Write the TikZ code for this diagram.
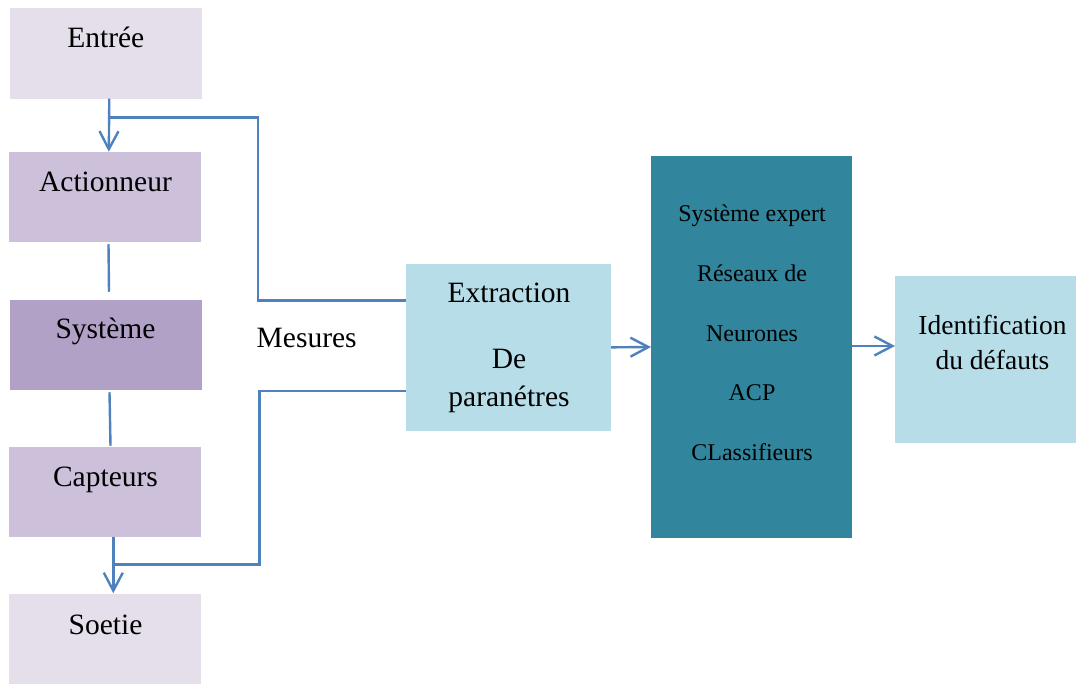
\documentclass[tikz,border=0pt]{standalone}
\usepackage{fontspec}
\setmainfont{Liberation Serif}
\usetikzlibrary{arrows.meta}
\definecolor{pale}{HTML}{E5DFEC}
\definecolor{mauve}{HTML}{CCC0DA}
\definecolor{sysc}{HTML}{B2A1C7}
\definecolor{lightblue}{HTML}{B7DEE8}
\definecolor{tealc}{HTML}{31859C}
\definecolor{linec}{HTML}{4F81BD}
\begin{document}
\begin{tikzpicture}[x=1pt,y=-1pt,
  box/.style={draw=none, inner sep=0pt, outer sep=0pt},
  leftbox/.style={box, minimum width=192pt, minimum height=90.5pt},
  txt/.style={anchor=base, inner sep=0pt, font=\fontsize{29.5}{35}\selectfont},
  smalltxt/.style={anchor=base, inner sep=0pt, font=\fontsize{24}{29}\selectfont},
  conn/.style={draw=linec, line width=2.4pt},
  arr/.style={conn, -{Straight Barb[length=18pt,width=19pt,line width=2.4pt]}}
]
\useasboundingbox (0,0) rectangle (1076,684);

% left column boxes
\node[leftbox, fill=pale]  (entree) at (105.5,53.5) {};
\node[leftbox, fill=mauve] (act)    at (105.0,197) {};
\node[leftbox, fill=sysc]  (sys)    at (105.5,345) {};
\node[leftbox, fill=mauve] (cap)    at (105.0,492) {};
\node[leftbox, fill=pale]  (soe)    at (105.0,639.5) {};

\node[txt] (entreeT) at (105.8,47.3) {Entrée};
\node[txt] (actT)    at (105.5,191.7) {Actionneur};
\node[txt] (sysT)    at (105.5,339) {Système};
\node[txt] (capT)    at (105.5,486) {Capteurs};
\node[txt] (soeT)    at (105.5,634) {Soetie};

% right boxes
\node[box, fill=lightblue, minimum width=205pt, minimum height=166.7pt] (ext) at (508.5,347.35) {};
\node[box, fill=tealc, minimum width=201pt, minimum height=382pt] (teal) at (751.5,347) {};
\node[box, fill=lightblue, minimum width=181pt, minimum height=166.7pt] (ident) at (985.5,359.35) {};

\node[txt] (extT1) at (509,302.7) {Extraction};
\node[txt] (extT2) at (509,369) {De};
\node[txt] (extT3) at (509,406.7) {paranétres};

\node[smalltxt] (tT1) at (752,221.7) {Système expert};
\node[smalltxt] (tT2) at (752,281.7) {Réseaux de};
\node[smalltxt] (tT3) at (752,341.7) {Neurones};
\node[smalltxt] (tT4) at (752,400.7) {ACP};
\node[smalltxt] (tT5) at (752,460.7) {CLassifieurs};

\node[font=\fontsize{27.5}{33}\selectfont, anchor=base, inner sep=0pt] (idT1) at (992.5,335) {Identification};
\node[font=\fontsize{27.5}{33}\selectfont, anchor=base, inner sep=0pt] (idT2) at (992.5,370) {du défauts};

\node[txt] (mes) at (306.7,348) {Mesures};

% connectors
\coordinate (b1) at (109.3,117.7);
\coordinate (b2) at (113.3,564.3);
\coordinate (e1) at (406,300.7);
\coordinate (e2) at (406,391);

\draw[arr] ([xshift=3.8pt]entree.south) -- ([xshift=3.8pt]act.north);
\draw[conn] (b1) -- (257.7,117.7) |- (e1);
\draw[conn] ([xshift=3.5pt,yshift=-2pt]act.south) -- ([xshift=3.5pt,yshift=8pt]sys.north);
\draw[conn] ([xshift=4pt,yshift=-2pt]sys.south) -- ([xshift=5.5pt,yshift=1pt]cap.north);
\draw[arr] ([xshift=8.3pt]cap.south) -- ([xshift=8.3pt,yshift=1pt]soe.north);
\draw[conn] (b2) -- (259.3,564.3) |- (e2);

\draw[arr] (ext.east) -- (teal.west);
\draw[arr] ([yshift=1pt]teal.east) -- (ident.west |- 0,346);
\end{tikzpicture}
\end{document}
